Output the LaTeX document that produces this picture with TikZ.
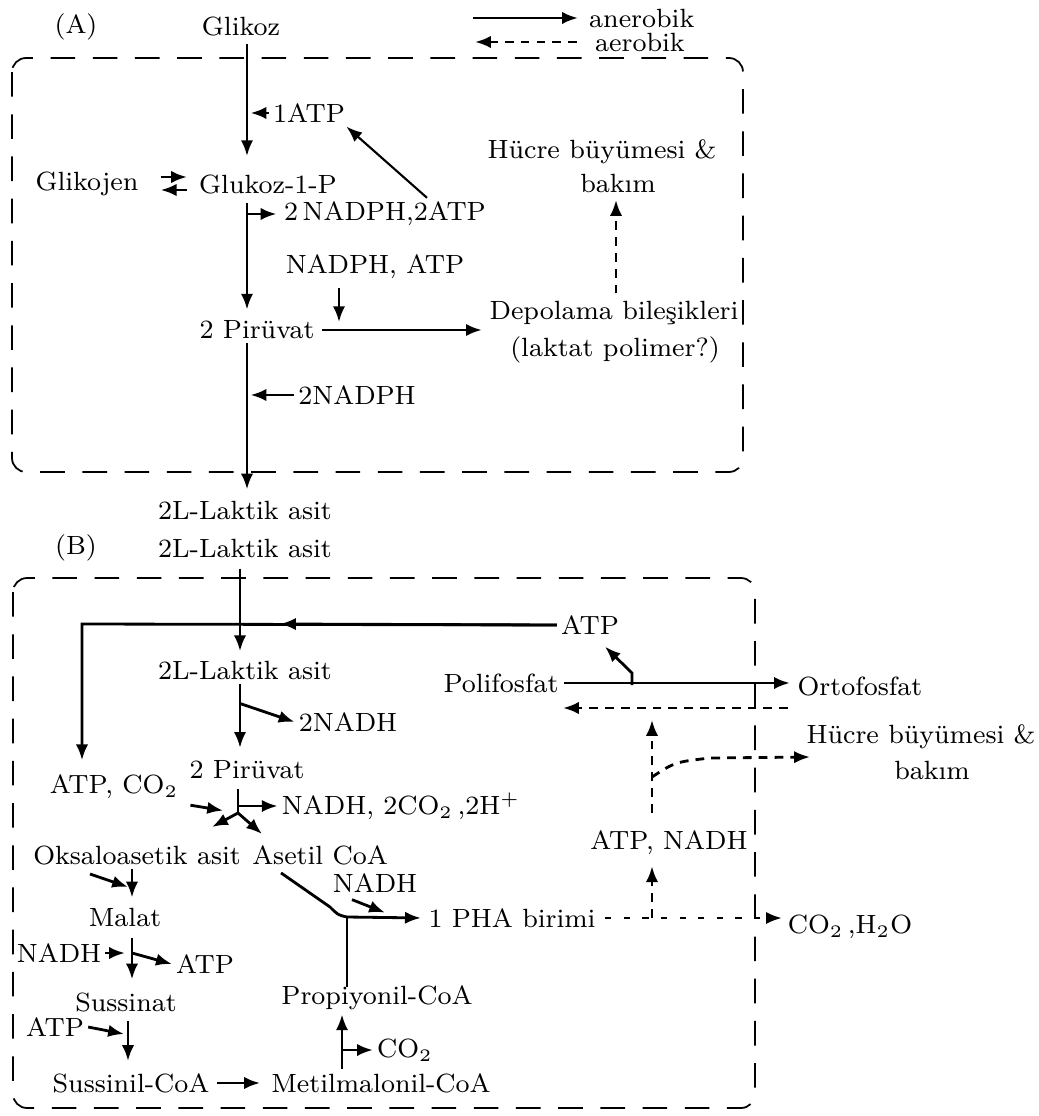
\documentclass[tikz,border=0pt]{standalone}
\usepackage{fontspec}
\usepackage{tikz}
\usetikzlibrary{arrows.meta,calc,positioning}

\tikzset{
  lbl/.style={inner sep=1pt},
  arr/.style={-{Latex[length=4.5pt,width=3.5pt]}, line width=0.8pt},
  aer/.style={arr, dash pattern=on 2.5pt off 2pt},
  dots/.style={arr, line width=0.7pt, dash pattern=on 1.8pt off 3.5pt},
  line/.style={line width=0.8pt},
  cell/.style={line width=0.5pt, dash pattern=on 7pt off 5pt, rounded corners=4pt},
}

\begin{document}
\begin{tikzpicture}[x=0.01cm, y=-0.01cm, font=\fontsize{7.5}{9}\selectfont, every node/.style={lbl}]
\useasboundingbox (0,0) rectangle (1038,1116);

% legend
\node (aner) [anchor=west] at (585,18) {anerobik};
\node (aer) [anchor=west] at (591,42) {aerobik};
\coordinate (lg1) at (473,18);
\coordinate (lg2) at (475,42);
\draw[arr, shorten >=2pt] (lg1) -- (aner.west);
\draw[aer, shorten <=4pt] (aer.west) -- (lg2);

% (A)
\draw[cell] (12,58) rectangle (743,472);
\coordinate (colA) at (247,0);
\node (lblA) at (76,27) {(A)};
\node (glikoz) at (241,27) {Glikoz};
\node (g1p) at (268,184) {Glukoz-1-P};
\node (glikojen) at (87,184) {Glikojen};
\node (atp1) at (309,113) {1ATP};
\node (nadph2atp) at (385,214) {2\,NADPH,2ATP};
\node (nadphatp) at (375,267) {NADPH, ATP};
\node (piruvA) at (257,330) {2 Pirüvat};
\node (depo) at (614,313) {Depolama bileşikleri};
\node (depo2) at (615,350) {(laktat polimer?)};
\node (hucreA) at (602,152) {Hücre büyümesi \&};
\node (bakimA) at (618,183) {bakım};
\node (nadph2) at (357,395) {2NADPH};
\node (laktik1) at (245,510) {2L-Laktik asit};

\draw[arr, shorten <=1pt, shorten >=4pt] (colA |- glikoz.south) -- (colA |- g1p.north);
\draw[arr, shorten >=1pt] (atp1.west) -- (atp1.west -| colA);
\draw[arr, line width=0.6pt] ($(nadph2atp.north)+(42,0)$) -- (atp1.-20);
\draw[arr] ($(glikojen.east)+(18,-7)$) -- ($(g1p.west)+(-8,-7)$);
\draw[arr] ($(g1p.west)+(-8,6)$) -- ($(glikojen.east)+(18,6)$);
\draw[arr, shorten >=1pt] (colA |- nadph2atp.west) -- (nadph2atp.west);
\draw[arr, shorten <=1.5pt, shorten >=2pt] (colA |- g1p.south) -- (colA |- piruvA.north);
\coordinate (pvmid) at (339,332);
\draw[arr, shorten <=1.5pt, shorten >=2.8pt] (nadphatp.south -| pvmid) -- (pvmid);
\draw[arr, shorten <=1pt, shorten >=1pt] (piruvA.east) -- (piruvA.east -| depo.west);
\draw[aer, shorten <=1pt, shorten >=1pt] (depo.north -| 616,0) -- (bakimA.south -| 616,0);
\draw[arr, shorten >=2pt] (colA |- piruvA.south) -- (colA |- laktik1.north);
\draw[arr, shorten >=1pt] (nadph2.west) -- (nadph2.west -| colA);

% (B)
\draw[cell] (13,578) rectangle (755,1108);
\coordinate (colB) at (240,0);
\node (lblB) at (76,548) {(B)};
\node (laktik2) at (245,548) {2L-Laktik asit};
\node (laktik3) at (245,670) {2L-Laktik asit};
\node (atpB) at (590,625) {ATP};
\node (polif) at (501,683) {Polifosfat};
\node (ortof) at (860,686) {Ortofosfat};
\node (nadh2) at (348,722) {2NADH};
\node (piruvB) at (247,770) {2 Pirüvat};
\node (atpco2) at (114,787) {ATP, CO$_2$};
\node (nadhco2) at (401,806) {NADH, 2CO$_2$\,,2H$^+$};
\node (hucreB) at (921,737) {Hücre büyümesi \&};
\node (bakimB) at (932,770) {bakım};
\node (oksalo) at (137,855) {Oksaloasetik asit};
\node (asetil) at (320,855) {Asetil CoA};
\node (atpnadh) at (669,843) {ATP, NADH};
\node (nadh3) at (375,883) {NADH};
\node (malat) at (125,917) {Malat};
\node (pha) at (512,918) {1 PHA birimi};
\node (co2h2o) at (850,927) {CO$_2$\,,H$_2$O};
\node (nadh4) at (59,953) {NADH};
\node (atp4) at (205,964) {ATP};
\node (propi) at (377,998) {Propiyonil-CoA};
\node (sussinat) at (126,1002) {Sussinat};
\node (atp5) at (55,1027) {ATP};
\node (co2b) at (405,1050) {CO$_2$};
\node (sussinil) at (131,1083) {Sussinil-CoA};
\node (metil) at (381,1083) {Metilmalonil-CoA};

% lactate to pyruvate
\draw[arr, shorten <=2pt, shorten >=1.5pt] (colB |- laktik2.south) -- (colB |- laktik3.north);
\coordinate (atpcorner) at (82,624);
\draw[arr, shorten >=3pt] (atpB.west) -- (atpcorner) -- (atpcorner |- atpco2.north);
\draw[arr] (atpB.west) -- (280,624);
\draw[arr, shorten >=2.5pt] (colB |- laktik3.south) -- (colB |- piruvB.north);
\draw[arr] ($(colB |- laktik3.south)+(0,20)$) -- (nadh2.west);

% pyruvate split
\coordinate (pj) at (238,813);
\coordinate (oksalotip) at (212,827);
\coordinate (asetiltip) at (262,834);
\draw[line, shorten <=1.5pt] (pj |- piruvB.south) -- (pj);
\draw[arr] (pj) -- (oksalotip);
\draw[arr] (pj) -- (asetiltip);
\draw[arr, shorten >=4.3pt] ($(atpco2.south east)+(8,2)$) -- (pj);
\draw[arr] (pj |- nadhco2.west) -- (nadhco2.west);

% oxaloacetate to succinyl-CoA
\coordinate (cx) at (132,0);
\coordinate (os1) at (90,874);
\coordinate (os2) at (128,887);
\draw[arr, shorten >=1.7pt] (cx |- oksalo.south) -- (cx |- malat.north);
\draw[arr] (os1) -- (os2);
\draw[arr, shorten <=2pt, shorten >=2.5pt] (cx |- malat.south) -- (cx |- sussinat.north);
\draw[arr, shorten >=2pt] (nadh4.east) -- (nadh4.east -| cx);
\draw[arr] (nadh4.east -| cx) -- (atp4.west);
\coordinate (cx2) at (128,0);
\coordinate (st1) at (124,1034);
\draw[arr, shorten <=1.5pt, shorten >=2.3pt] (cx2 |- sussinat.south) -- (cx2 |- sussinil.north);
\draw[arr] (atp5.east) -- (st1);
\draw[arr, shorten <=1pt, shorten >=2pt] (sussinil.east) -- (metil.west);

% methylmalonyl-CoA to PHA
\coordinate (cx3) at (342,0);
\draw[arr] (cx3 |- metil.north) -- (cx3 |- propi.south);
\draw[arr] (cx3 |- co2b.west) -- (co2b.west);
\coordinate (phaj) at (347,917);
\coordinate (abend) at (330,907);
\draw[line, shorten <=-1.5pt] (propi.north -| phaj) -- (phaj);
\draw[line] ($(asetil.south west)+(33,4)$) -- (abend) .. controls (338,915) .. (phaj);
\draw[arr, shorten >=1pt] (phaj) -- (pha.west);
\draw[arr] ($(nadh3.south)+(-23,3)$) -- ($(nadh3.south)+(10,16)$);

% polyphosphate
\coordinate (pbr) at (632,685);
\draw[arr, shorten <=0.5pt, shorten >=1pt] (polif.east) -- (polif.east -| ortof.west);
\draw[arr] (pbr) -- ++(0,-12) -- ($(atpB.south)+(15,8)$);
\coordinate (bl1) at (788,708);
\coordinate (bl2) at (563,708);
\draw[aer] (bl1) -- (bl2);

% aerobic branch
\coordinate (cx4) at (652,0);
\coordinate (hbr) at (652,777);
\coordinate (htip) at (810,757);
\draw[dots, shorten <=1.5pt, shorten >=0.5pt] (pha.east) -- (pha.east -| co2h2o.west);
\draw[aer, shorten >=2pt] (cx4 |- pha.east) -- (cx4 |- atpnadh.south);
\draw[aer, shorten <=4pt, shorten >=3.4pt] (cx4 |- atpnadh.north) -- (cx4 |- bl1);
\draw[aer] (hbr) .. controls (675,762) .. (710,758) -- (htip);
\end{tikzpicture}
\end{document}
